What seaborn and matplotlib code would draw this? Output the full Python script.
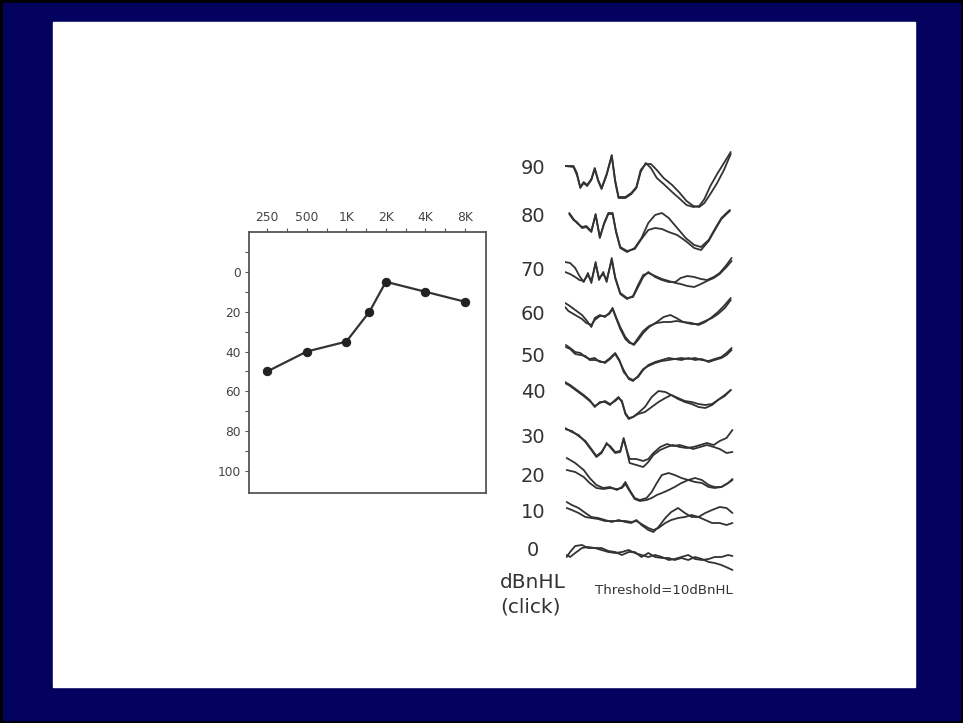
import matplotlib
matplotlib.use("Agg")
import matplotlib.pyplot as plt
from matplotlib.patches import Rectangle
from matplotlib.ticker import FixedLocator, NullFormatter
import seaborn as sns

sns.set_style("white")
plt.rcParams["font.family"] = ["DejaVu Sans"]

# ---- Pure-tone audiogram (dB HL) ----
freqs = [250, 500, 1000, 1500, 2000, 4000, 8000]
thresholds = [50, 40, 35, 20, 5, 10, 15]
freq_ticks = [250, 500, 1000, 2000, 4000, 8000]
freq_labels = ["250", "500", "1K", "2K", "4K", "8K"]
db_ticks = [0, 20, 40, 60, 80, 100]

# ---- Click ABR: two replications per stimulus level, time in ms ----
levels = [90, 80, 70, 60, 50, 40, 30, 20, 10, 0]

t90 = [0, 0.5, 0.7, 0.9, 1.1, 1.3, 1.55, 1.75, 1.95, 2.15, 2.45, 2.75, 2.95, 3.15, 3.55, 3.9,
       4.2, 4.45, 4.75, 5.05, 5.4, 5.8, 6.3, 6.7, 7.15, 7.55, 7.9, 8.2, 8.55, 8.95, 9.35, 9.75]
a90 = [2, 2, -5, -20, -15, -18, -12, -1, -13, -21, -7, 13, -14, -30, -30, -26,
       -20, -4, 5, 0, -10, -16, -24, -30, -37, -39, -38, -31, -18, -6, 5, 16]
b90 = [2, 1, -7, -19, -14, -17, -11, 0, -12, -20, -6, 12, -12, -29, -29, -25,
       -19, -2, 4, 4, -2, -10, -17, -24, -33, -38, -39, -35, -26, -15, -2, 14]

t80 = [0.25, 0.5, 0.7, 1.0, 1.25, 1.55, 1.8, 2.05, 2.3, 2.55, 2.8, 3.0, 3.25, 3.65, 4.1,
       4.5, 4.9, 5.3, 5.7, 6.1, 6.6, 7.1, 7.6, 8.0, 8.45, 8.85, 9.2, 9.5, 9.7]
a80 = [0, -6, -8, -14, -13, -18, 0, -24, -9, 1, 1, -18, -34, -38, -34,
       -24, -9, -1, 1, -4, -14, -24, -31, -33, -26, -14, -4, 1, 4]
b80 = [1, -5, -9, -13, -12, -17, -1, -23, -10, 0, 0, -17, -33, -37, -35,
       -25, -16, -14, -15, -18, -21, -27, -34, -36, -27, -15, -5, 0, 3]

t70 = [0, 0.3, 0.6, 0.85, 1.1, 1.35, 1.55, 1.8, 2.0, 2.25, 2.45, 2.75, 2.95, 3.25, 3.65, 4.0,
       4.3, 4.6, 4.9, 5.3, 5.7, 6.1, 6.5, 6.8, 7.2, 7.6, 8.0, 8.35, 8.75, 9.1, 9.5, 9.8]
a70 = [6, 5, 0, -8, -14, -5, -15, 6, -12, -4, -14, 10, -9, -25, -30, -29,
       -19, -9, -4, -9, -12, -14, -14, -10, -8, -9, -11, -12, -9, -5, 3, 10]
b70 = [-4, -6, -9, -12, -13, -7, -13, 4, -10, -6, -12, 8, -10, -26, -31, -28,
       -17, -7, -5, -8, -11, -13, -15, -16, -18, -19, -16, -13, -10, -6, 1, 7]

t60 = [0, 0.2, 0.6, 1.0, 1.25, 1.55, 1.75, 2.05, 2.35, 2.6, 2.8, 3.0, 3.25, 3.55, 3.8, 4.05,
       4.3, 4.6, 4.95, 5.4, 5.8, 6.2, 6.55, 6.95, 7.45, 7.85, 8.25, 8.65, 9.0, 9.4, 9.75]
a60 = [11, 9, 4, -1, -6, -13, -4, -1, -3, 1, 6, -3, -13, -23, -28, -31,
       -26, -19, -13, -8, -3, -1, -4, -8, -9, -11, -8, -3, 2, 9, 16]
b60 = [7, 3, -1, -5, -9, -11, -6, -2, -2, 0, 5, -4, -15, -25, -29, -30,
       -24, -17, -12, -9, -8, -8, -7, -8, -10, -10, -7, -4, 0, 6, 14]

t50 = [0.05, 0.3, 0.6, 0.9, 1.2, 1.45, 1.75, 2.05, 2.35, 2.65, 2.95, 3.2, 3.45, 3.75, 4.0, 4.3,
       4.6, 4.9, 5.3, 5.7, 6.1, 6.45, 6.85, 7.25, 7.65, 8.05, 8.45, 8.8, 9.2, 9.5, 9.8]
a50 = [11, 8, 4, 3, -1, -3, -2, -6, -6, -2, 3, -4, -16, -22, -24, -21,
       -14, -9, -6, -4, -2, -3, -2, -3, -2, -4, -5, -3, -1, 3, 8]
b50 = [9, 7, 2, 1, 0, -4, -4, -5, -7, -3, 2, -5, -14, -23, -25, -20,
       -13, -10, -7, -5, -4, -3, -4, -2, -4, -3, -6, -4, -2, 1, 6]

t40 = [0, 0.3, 0.7, 1.1, 1.45, 1.75, 2.05, 2.35, 2.65, 2.95, 3.15, 3.35, 3.55, 3.75, 4.0,
       4.3, 4.7, 5.1, 5.5, 5.9, 6.25, 6.65, 7.05, 7.45, 7.85, 8.25, 8.65, 9.0, 9.4, 9.75]
a40 = [10, 7, 2, -3, -8, -15, -10, -10, -13, -8, -5, -10, -21, -26, -25,
       -21, -15, -5, 1, 0, -3, -6, -9, -10, -12, -13, -12, -8, -3, 2]
b40 = [9, 6, 1, -4, -9, -14, -11, -9, -12, -9, -6, -9, -22, -27, -25,
       -22, -20, -15, -10, -6, -3, -7, -10, -12, -15, -16, -13, -8, -4, 2]

t30 = [0, 0.4, 0.8, 1.2, 1.55, 1.85, 2.15, 2.45, 2.65, 2.95, 3.25, 3.45, 3.65, 3.8, 4.2,
       4.6, 4.9, 5.2, 5.6, 6.0, 6.35, 6.75, 7.15, 7.55, 7.95, 8.35, 8.75, 9.1, 9.5, 9.85]
a30 = [9, 5, 2, -5, -13, -20, -16, -6, -10, -16, -15, -1, -15, -26, -28,
       -30, -25, -18, -13, -10, -8, -10, -11, -10, -8, -6, -8, -4, -1, 7]
b30 = [8, 6, 1, -4, -12, -19, -15, -7, -9, -15, -14, -2, -14, -22, -22,
       -24, -22, -16, -10, -7, -9, -8, -10, -12, -10, -8, -10, -12, -16, -15]

t20 = [0.1, 0.6, 1.1, 1.45, 1.85, 2.25, 2.65, 3.05, 3.35, 3.55, 3.8, 4.1, 4.4, 4.8,
       5.1, 5.4, 5.7, 6.1, 6.45, 6.85, 7.25, 7.65, 8.05, 8.45, 8.8, 9.2, 9.6, 9.85]
a20 = [17, 12, 5, -3, -10, -13, -12, -15, -12, -7, -15, -23, -25, -23,
       -17, -8, 0, 2, 0, -3, -5, -7, -8, -12, -13, -12, -8, -4]
b20 = [5, 3, -2, -8, -13, -14, -13, -14, -13, -9, -16, -24, -26, -25,
       -23, -20, -18, -15, -12, -8, -5, -3, -5, -10, -12, -12, -8, -5]

t10 = [0.1, 0.4, 0.8, 1.2, 1.55, 1.95, 2.35, 2.75, 3.15, 3.55, 3.9, 4.2, 4.5, 4.9,
       5.2, 5.5, 5.9, 6.25, 6.65, 7.05, 7.45, 7.85, 8.25, 8.65, 9.1, 9.5, 9.85]
a10 = [9, 6, 3, -2, -6, -7, -9, -11, -9, -11, -12, -9, -14, -19,
       -21, -16, -7, -1, 3, -2, -6, -6, -2, 1, 4, 3, -2]
b10 = [3, 1, -2, -6, -7, -8, -10, -10, -10, -10, -11, -10, -13, -17,
       -19, -17, -12, -9, -7, -6, -4, -6, -9, -12, -12, -14, -12]

t0 = [0.1, 0.3, 0.6, 1.0, 1.35, 1.75, 2.15, 2.55, 2.95, 3.35, 3.75, 4.1, 4.5, 4.9,
      5.3, 5.7, 6.1, 6.45, 6.85, 7.25, 7.65, 8.05, 8.45, 8.8, 9.2, 9.6, 9.85]
a0 = [-8, -3, 3, 4, 1, 1, -1, -3, -4, -3, -1, -4, -6, -8,
      -6, -8, -11, -10, -8, -6, -10, -11, -10, -8, -8, -6, -7]
b0 = [-6, -8, -4, 1, 2, 1, 1, -2, -3, -6, -3, -3, -8, -4,
      -8, -9, -9, -11, -9, -11, -8, -10, -13, -14, -16, -19, -21]

waves = {
    90: (t90, a90, b90), 80: (t80, a80, b80), 70: (t70, a70, b70),
    60: (t60, a60, b60), 50: (t50, a50, b50), 40: (t40, a40, b40),
    30: (t30, a30, b30), 20: (t20, a20, b20), 10: (t10, a10, b10),
    0: (t0, a0, b0),
}

# ---- layout (pixels of the 963 x 723 canvas) ----
W, H = 963, 723
NAVY = "#03035f"
INK = "#333333"


def frac(x0, y0, x1, y1):
    return [x0 / W, 1 - y1 / H, (x1 - x0) / W, (y1 - y0) / H]


fig = plt.figure(figsize=(W / 100, H / 100), dpi=100)
fig.patch.set_facecolor("black")
fig.add_artist(Rectangle((3 / W, 1 - 720 / H), 957 / W, 717 / H,
                         transform=fig.transFigure, color=NAVY, zorder=0))
fig.add_artist(Rectangle((53 / W, 1 - 687 / H), 862 / W, 665 / H,
                         transform=fig.transFigure, color="white", zorder=0))

# audiogram
ax = fig.add_axes(frac(249, 232, 486, 493))
ax.set_facecolor("white")
sns.lineplot(x=freqs, y=thresholds, ax=ax, color="#333333", lw=1.6,
             marker="o", markersize=6, markerfacecolor="#222222",
             markeredgecolor="#222222", estimator=None)
ax.set_xscale("log", base=2)
ax.set_xlim(250 * 2 ** -0.46, 250 * 2 ** 5.53)
ax.set_ylim(111, -20)
ax.xaxis.tick_top()
ax.xaxis.set_major_locator(FixedLocator(freq_ticks))
ax.set_xticklabels(freq_labels)
ax.xaxis.set_minor_locator(FixedLocator([f * 2 ** 0.5 for f in freq_ticks[:-1]]))
ax.xaxis.set_minor_formatter(NullFormatter())
ax.yaxis.set_major_locator(FixedLocator(db_ticks))
ax.set_yticklabels([str(v) for v in db_ticks])
ax.yaxis.set_minor_locator(FixedLocator([v - 10 for v in db_ticks]))
ax.tick_params(which="both", direction="out", length=3, width=0.8, color="#555555",
               labelsize=8.8, labelcolor="#444444", pad=3)
ax.tick_params(axis="x", which="both", top=True, bottom=False)
ax.tick_params(axis="y", which="both", left=True, right=False)
for s in ax.spines.values():
    s.set_color("#555555")
    s.set_linewidth(1.3)
ax.set_xlabel("")
ax.set_ylabel("")

# ABR traces: each level stacked at its own row
row_y = [168, 214, 268, 314, 356, 392, 437, 475, 511, 549]
label_y = [169, 216, 270, 315, 357, 392, 438, 477, 513, 550]
ax2 = fig.add_axes(frac(565, 130, 735, 620))
ax2.set_xlim(0, 10)
ax2.set_ylim(620, 130)
ax2.axis("off")
for lvl, base in zip(levels, row_y):
    t, a, b = waves[lvl]
    for trace in (a, b):
        sns.lineplot(x=t, y=[base - v for v in trace], ax=ax2, color=INK,
                     lw=1.3, estimator=None, sort=False)

for lvl, ly in zip(levels, label_y):
    fig.text(533 / W, 1 - ly / H, str(lvl), ha="center", va="center",
             fontsize=14, color="#333333")
fig.text(533 / W, 1 - 582 / H, "dBnHL", ha="center", va="center",
         fontsize=14.5, color="#333333")
fig.text(531 / W, 1 - 607 / H, "(click)", ha="center", va="center",
         fontsize=14.5, color="#333333")
fig.text(664 / W, 1 - 590 / H, "Threshold=10dBnHL", ha="center", va="center",
         fontsize=9.6, color="#333333")

fig.savefig("out.png", dpi=100, facecolor=fig.get_facecolor())
